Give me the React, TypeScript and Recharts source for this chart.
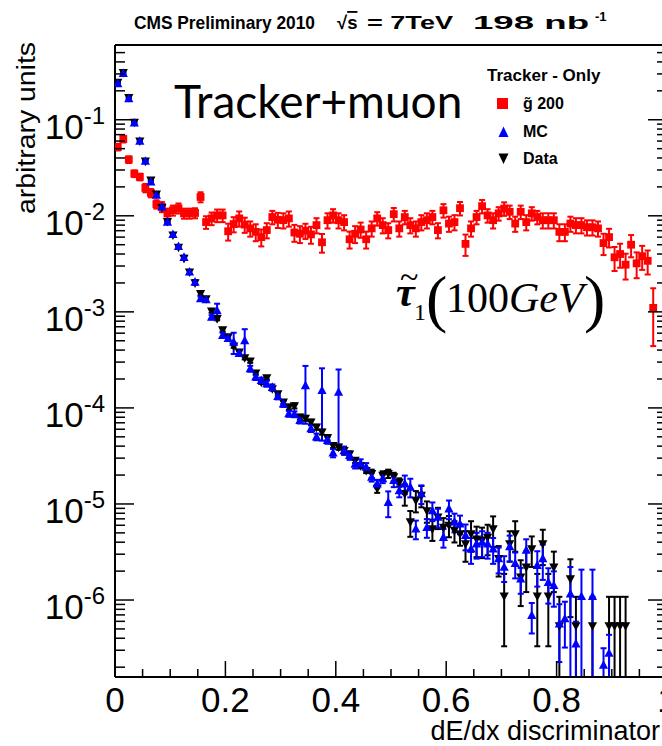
import { ScatterChart, Scatter, XAxis, YAxis, ErrorBar } from 'recharts'

const RED = '#ff0000'
const BLUE = '#0000ff'
const BLACK = '#000000'
const SANS = '"Liberation Sans", Arial, Helvetica, sans-serif'
const SERIF = '"Liberation Serif", "Times New Roman", serif'

const BIN_WIDTH = 0.01
const Y_MIN = 1.58e-7
const Y_MAX = 0.6

// g~ 200 (red squares)
const GLUINO = [
  0.052, 0.063, 0.0385, 0.0275, 0.0254, 0.0195, 0.0173, 0.0132, 0.0124, 0.0106,
  0.0114, 0.012, 0.0106, 0.0106, 0.0107, 0.0157, 0.0086, 0.0094, 0.0101, 0.0101,
  0.0069, 0.0082, 0.0094, 0.0081, 0.0074, 0.0068, 0.006, 0.0071, 0.0097, 0.0091,
  0.009, 0.0094, 0.0067, 0.0065, 0.007, 0.0064, 0.008, 0.0053, 0.009, 0.0101,
  0.009, 0.0086, 0.0057, 0.0065, 0.0072, 0.0057, 0.0074, 0.0094, 0.008, 0.0071,
  0.0104, 0.0074, 0.0097, 0.008, 0.0074, 0.0086, 0.009, 0.0097, 0.0071, 0.0114,
  0.0083, 0.0086, 0.012, 0.0051, 0.0074, 0.0097, 0.0126, 0.0101, 0.009, 0.0106,
  0.0119, 0.011, 0.0083, 0.011, 0.0086, 0.0106, 0.0097, 0.009, 0.009, 0.009,
  0.0068, 0.0068, 0.0083, 0.008, 0.008, 0.0076, 0.0076, 0.0074, 0.0052, 0.006,
  0.0037, 0.004, 0.0031, 0.005, 0.0032, 0.0038, 0.0034, 0.0011, null, null,
]
const GLUINO_ERR = [
  0.08, 0.08, 0.08, 0.08, 0.08, 0.1, 0.1, 0.1, 0.12, 0.12,
  0.12, 0.12, 0.12, 0.12, 0.12, 0.12, 0.15, 0.15, 0.15, 0.15,
  0.2, 0.18, 0.18, 0.18, 0.18, 0.2, 0.2, 0.18, 0.16, 0.18,
  0.18, 0.18, 0.2, 0.2, 0.18, 0.2, 0.18, 0.22, 0.18, 0.16,
  0.18, 0.18, 0.2, 0.2, 0.18, 0.2, 0.18, 0.16, 0.18, 0.18,
  0.16, 0.18, 0.16, 0.18, 0.18, 0.18, 0.18, 0.16, 0.18, 0.16,
  0.18, 0.18, 0.16, 0.25, 0.18, 0.16, 0.16, 0.16, 0.18, 0.16,
  0.16, 0.16, 0.18, 0.16, 0.18, 0.16, 0.16, 0.18, 0.18, 0.18,
  0.2, 0.2, 0.18, 0.18, 0.18, 0.18, 0.18, 0.18, 0.25, 0.22,
  0.28, 0.28, 0.3, 0.26, 0.3, 0.28, 0.28, 0.6, 0, 0,
]

// MC (blue triangles up)
const MC = [
  0.238, 0.303, 0.166, 0.0926, 0.0597, 0.037, 0.0225, 0.0164, 0.0124, 0.0086,
  0.0064, 0.0048, 0.0037, 0.0026, 0.00204, 0.00137, 0.00134, 0.00088, 0.00103, 0.00057,
  0.00053, 0.000485, 0.00037, 0.0005, 0.000256, 0.00021, 0.000193, 0.000179, 0.000164, 0.000132,
  0.00011, 0.000087, 0.000086, 0.000074, 0.000171, 0.000061, 0.00005, 0.000152, 0.000046, 0.000034,
  0.000146, 0.000036, 0.000032, 0.000026, 0.0000265, 0.0000242, 0.000019, 0.0000162, 0.0000183, 0.0000104,
  0.0000176, 0.0000138, 1.62e-5, 1.5e-5, 5.5e-6, 1.28e-5, 5.7e-6, 8.5e-6, 7.3e-6, 4.5e-6,
  8.9e-6, 6.5e-6, 6.2e-6, 4.7e-6, 3.4e-6, 3.85e-6, 4.0e-6, 3.85e-6, 3.4e-6, 2.7e-6,
  2.2e-6, 3.6e-6, 2.4e-6, 1.66e-6, 3.3e-6, 6.9e-7, 2.3e-6, 2.7e-6, 1.53e-6, 1.42e-6,
  5.65e-7, 6.4e-7, 1.16e-6, 3.5e-7, 1.09e-6, null, 1.09e-6, null, 2.1e-7, 2.8e-7,
  null, null, null, null, null, null, null, null, null, null,
]
const MC_ERR = [
  0.02, 0.02, 0.02, 0.02, 0.02, 0.02, 0.02, 0.02, 0.02, 0.02,
  0.03, 0.03, 0.04, 0.05, 0.05, 0.05, 0.05, 0.05, 0.18, 0.06,
  0.06, 0.25, 0.06, 0.32, 0.07, 0.07, 0.07, 0.07, 0.07, 0.07,
  0.07, 0.07, 0.07, 0.07, 0.6, 0.08, 0.08, 0.7, 0.08, 0.1,
  0.72, 0.1, 0.1, 0.1, 0.1, 0.1, 0.1, 0.1, 0.1, 0.3,
  0.15, 0.15, 0.22, 0.22, 0.22, 0.22, 0.22, 0.22, 0.22, 0.22,
  0.22, 0.22, 0.22, 0.3, 0.3, 0.3, 0.3, 0.3, 0.3, 0.3,
  0.3, 0.3, 0.3, 0.3, 0.3, 0.35, 0.4, 0.4, 0.4, 0.4,
  0.6, 0.5, 0.9, 0.7, 0.9, 0, 0.9, 0, 0.5, 0.55,
  0, 0, 0, 0, 0, 0, 0, 0, 0, 0,
]

// Data (black triangles down)
const DATA = [
  0.245, 0.31, 0.17, 0.094, 0.06, 0.037, 0.0235, 0.0168, 0.0122, 0.0087,
  0.0063, 0.0047, 0.0036, 0.0026, 0.002, 0.00155, 0.00137, 0.00102, 0.00085, 0.00065,
  0.00055, 0.00044, 0.00038, 0.000333, 0.000307, 0.00023, 0.000185, 0.000206, 0.000158, 0.00014,
  0.000115, 0.000102, 0.000105, 0.00008, 0.000078, 0.000071, 0.000063, 0.000056, 0.000049, 0.0000406,
  0.000039, 0.000036, 0.000033, 0.0000284, 0.000025, 0.0000223, 0.0000207, 0.0000145, 0.0000199, 0.0000207,
  0.0000192, 0.0000168, 1.28e-5, 6.5e-6, 1.09e-5, 1.23e-5, 8.5e-6, 5.5e-6, 7.3e-6, 5.7e-6,
  6.0e-6, 5.3e-6, 4.9e-6, 3.85e-6, 4.9e-6, 4.3e-6, 4.2e-6, 4.5e-6, 5.5e-6, 2.7e-6,
  1.1e-6, 3.85e-6, 4.9e-6, 1.73e-6, 2.2e-6, 3.4e-6, 1.1e-6, 3.85e-6, 1.1e-6, 2.2e-6,
  5.4e-7, null, 1.66e-6, 5.4e-7, null, null, 5.4e-7, null, null, 5.4e-7,
  5.4e-7, 5.4e-7, 5.4e-7, null, null, null, null, null, null, null,
]
const DATA_ERR = [
  0.02, 0.02, 0.02, 0.02, 0.02, 0.02, 0.02, 0.02, 0.02, 0.02,
  0.02, 0.02, 0.03, 0.04, 0.04, 0.04, 0.04, 0.04, 0.04, 0.04,
  0.04, 0.04, 0.04, 0.04, 0.04, 0.04, 0.04, 0.04, 0.04, 0.04,
  0.04, 0.06, 0.06, 0.06, 0.06, 0.06, 0.06, 0.06, 0.06, 0.06,
  0.06, 0.06, 0.06, 0.06, 0.06, 0.06, 0.1, 0.1, 0.1, 0.1,
  0.1, 0.1, 0.25, 0.3, 0.25, 0.25, 0.25, 0.25, 0.25, 0.25,
  0.25, 0.25, 0.25, 0.35, 0.35, 0.35, 0.35, 0.35, 0.35, 0.35,
  0.7, 0.35, 0.35, 0.5, 0.45, 0.35, 0.7, 0.4, 0.7, 0.45,
  1, 0, 0.6, 1, 0, 0, 1, 0, 0, 1,
  1, 1, 1, 0, 0, 0, 0, 0, 0, 0,
]

const X_TICKS = [0, 0.05, 0.1, 0.15, 0.2, 0.25, 0.3, 0.35, 0.4, 0.45, 0.5, 0.55, 0.6, 0.65, 0.7, 0.75, 0.8, 0.85, 0.9, 0.95, 1]
const X_LABELS = ['0', '0.2', '0.4', '0.6', '0.8', '1']
const DECADES = [1e-7, 1e-6, 1e-5, 1e-4, 1e-3, 1e-2, 1e-1]
const MINOR = [2, 3, 4, 5, 6, 7, 8, 9]
const Y_TICKS = DECADES.flatMap(d => [d, ...MINOR.map(m => m * d)]).filter(v => v >= Y_MIN && v <= Y_MAX)

type Row = { x: number; y: number; err: [number, number] }

function toRows(vals: (number | null)[], errs: number[]): Row[] {
  return vals.flatMap((v, i) =>
    v == null ? [] : [{ x: (i + 0.5) * BIN_WIDTH, y: v, err: [Math.min(v * errs[i], v - Y_MIN), v * errs[i]] as [number, number] }]
  )
}

const gluinoRows = toRows(GLUINO, GLUINO_ERR)
const mcRows = toRows(MC, MC_ERR)
const dataRows = toRows(DATA, DATA_ERR)

const isDecade = (v: number) => {
  const lg = Math.log10(v)
  return Math.abs(lg - Math.round(lg)) < 1e-6
}
const isMajorX = (v: number) => Math.abs(v * 5 - Math.round(v * 5)) < 1e-6

function XTickBottom({ x, y, payload }: any) {
  const major = isMajorX(payload.value)
  return (
    <g>
      <line x1={x} y1={y} x2={x} y2={y - (major ? 16 : 8)} stroke={BLACK} strokeWidth={1.5} />
      {major && (
        <text x={x} y={y + 35} textAnchor="middle" fontFamily={SANS} fontSize={35} fill={BLACK}>
          {X_LABELS[Math.round(payload.value * 5)]}
        </text>
      )}
    </g>
  )
}

function XTickTop({ x, y, payload }: any) {
  const major = isMajorX(payload.value)
  return <line x1={x} y1={y} x2={x} y2={y + (major ? 16 : 8)} stroke={BLACK} strokeWidth={1.5} />
}

function YTickLeft({ x, y, payload }: any) {
  const major = isDecade(payload.value)
  return (
    <g>
      <line x1={x} y1={y} x2={x + (major ? 19 : 10)} y2={y} stroke={BLACK} strokeWidth={1.5} />
      {major && (
        <text x={x - 10} y={y + 19} textAnchor="end" fontFamily={SANS} fontSize={35} fill={BLACK}>
          <tspan>10</tspan>
          <tspan dy={-15} fontSize={24}>{String(Math.round(Math.log10(payload.value)))}</tspan>
        </text>
      )}
    </g>
  )
}

function YTickRight({ x, y, payload }: any) {
  const major = isDecade(payload.value)
  return <line x1={x} y1={y} x2={x - (major ? 19 : 10)} y2={y} stroke={BLACK} strokeWidth={1.5} />
}

const NoMark = () => <g />
const Square = ({ cx, cy }: any) => <rect x={cx - 3.9} y={cy - 3.9} width={7.8} height={7.8} fill={RED} />
const TriUp = ({ cx, cy }: any) => <path d={`M${cx} ${cy - 5}L${cx + 4.6} ${cy + 3.6}L${cx - 4.6} ${cy + 3.6}Z`} fill={BLUE} />
const TriDown = ({ cx, cy }: any) => <path d={`M${cx} ${cy + 5}L${cx + 4.6} ${cy - 3.6}L${cx - 4.6} ${cy - 3.6}Z`} fill={BLACK} />

export default function App() {
  return (
    <div style={{ position: 'fixed', left: 0, top: 0, width: 662, height: 746, overflow: 'hidden', background: '#fff' }}>
      <ScatterChart width={700} height={746} margin={{ top: 44, right: 32, bottom: 68, left: 114 }}>
        <XAxis
          dataKey="x"
          type="number"
          domain={[0, 1]}
          ticks={X_TICKS}
          interval={0}
          allowDataOverflow
          height={1}
          tickSize={0}
          tickMargin={0}
          tickLine={false}
          axisLine={{ stroke: BLACK, strokeWidth: 2 }}
          tick={XTickBottom}
        />
        <XAxis
          xAxisId="top"
          orientation="top"
          type="number"
          domain={[0, 1]}
          ticks={X_TICKS}
          interval={0}
          allowDataOverflow
          height={1}
          tickSize={0}
          tickMargin={0}
          tickLine={false}
          axisLine={{ stroke: BLACK, strokeWidth: 2 }}
          tick={XTickTop}
        />
        <YAxis
          dataKey="y"
          type="number"
          scale="log"
          domain={[Y_MIN, Y_MAX]}
          ticks={Y_TICKS}
          interval={0}
          allowDataOverflow
          width={1}
          tickSize={0}
          tickMargin={0}
          tickLine={false}
          axisLine={{ stroke: BLACK, strokeWidth: 2 }}
          tick={YTickLeft}
        />
        <YAxis
          yAxisId="right"
          orientation="right"
          type="number"
          scale="log"
          domain={[Y_MIN, Y_MAX]}
          ticks={Y_TICKS}
          interval={0}
          allowDataOverflow
          width={1}
          tickSize={0}
          tickMargin={0}
          tickLine={false}
          axisLine={{ stroke: BLACK, strokeWidth: 2 }}
          tick={YTickRight}
        />

        <Scatter data={gluinoRows} dataKey="y" shape={NoMark} isAnimationActive={false}>
          <ErrorBar dataKey="err" direction="y" width={3} stroke={RED} strokeWidth={2} />
        </Scatter>
        <Scatter name="g~ 200" data={gluinoRows} dataKey="y" fill={RED} shape={Square} isAnimationActive={false} />
        <Scatter data={dataRows} dataKey="y" shape={NoMark} isAnimationActive={false}>
          <ErrorBar dataKey="err" direction="y" width={3} stroke={BLACK} strokeWidth={2} />
        </Scatter>
        <Scatter name="Data" data={dataRows} dataKey="y" fill={BLACK} shape={TriDown} isAnimationActive={false} />
        <Scatter data={mcRows} dataKey="y" shape={NoMark} isAnimationActive={false}>
          <ErrorBar dataKey="err" direction="y" width={3} stroke={BLUE} strokeWidth={2} />
        </Scatter>
        <Scatter name="MC" data={mcRows} dataKey="y" fill={BLUE} shape={TriUp} isAnimationActive={false} />

        {/* title */}
        <text y={29} fontFamily={SANS} fontWeight="bold" fontSize={18.5} fill={BLACK} style={{ whiteSpace: 'pre' }}>
          <tspan x={134} textLength={181} lengthAdjust="spacingAndGlyphs">CMS Preliminary 2010</tspan>
          <tspan x={337}>√</tspan>
          <tspan style={{ textDecoration: 'overline' }}>s</tspan>
        </text>
        <text x={367} y={29} textLength={86} lengthAdjust="spacingAndGlyphs" fontFamily={SANS} fontWeight="bold" fontSize={18.5} fill={BLACK} style={{ whiteSpace: 'pre' }}>= 7TeV</text>
        <text x={473} y={29} textLength={116} lengthAdjust="spacingAndGlyphs" fontFamily={SANS} fontWeight="bold" fontSize={18.5} fill={BLACK} style={{ whiteSpace: 'pre' }}>198 nb</text>
        <text x={595} y={21} fontFamily={SANS} fontWeight="bold" fontSize={13} fill={BLACK}>-1</text>

        {/* legend */}
        <text x={487} y={81} fontFamily={SANS} fontWeight="bold" fontSize={17} fill={BLACK}>Tracker - Only</text>
        <rect x={497} y={98} width={11} height={11} fill={RED} />
        <text x={523} y={109} fontFamily={SANS} fontWeight="bold" fontSize={16} fill={BLACK}>g̃ 200</text>
        <path d="M503.5 126.5L508.5 137L498.5 137Z" fill={BLUE} />
        <text x={523} y={137} fontFamily={SANS} fontWeight="bold" fontSize={16} fill={BLACK}>MC</text>
        <path d="M503.5 164L508.5 153.5L498.5 153.5Z" fill={BLACK} />
        <text x={523} y={164} fontFamily={SANS} fontWeight="bold" fontSize={16} fill={BLACK}>Data</text>

        {/* annotations */}
        <text x={174} y={118} fontFamily="Lato, 'Open Sans', sans-serif" fontSize={46} fill={BLACK}>Tracker+muon</text>
        <text x={396} y={306} fontFamily={SERIF} fontSize={42} fontStyle="italic" fontWeight="bold" fill={BLACK}>τ</text>
        <text x={400} y={288} fontFamily={SERIF} fontSize={34} fill={BLACK}>~</text>
        <text x={414} y={320} fontFamily={SERIF} fontSize={24} fill={BLACK}>1</text>
        <text x={426} y={320} fontFamily={SERIF} fontSize={64} fill={BLACK}>(</text>
        <text x={446} y={312} fontFamily={SERIF} fontSize={42} fill={BLACK}>
          <tspan>100</tspan>
          <tspan fontStyle="italic">GeV</tspan>
        </text>
        <text x={584} y={320} fontFamily={SERIF} fontSize={64} fill={BLACK}>)</text>

        {/* axis titles */}
        <text x={660} y={740} textAnchor="end" fontFamily={SANS} fontSize={27} fill={BLACK}>dE/dx discriminator</text>
        <text transform="translate(35 42) rotate(-90)" textAnchor="end" textLength={172} lengthAdjust="spacingAndGlyphs" fontFamily={SANS} fontSize={25} fill={BLACK}>arbitrary units</text>
      </ScatterChart>
    </div>
  )
}
